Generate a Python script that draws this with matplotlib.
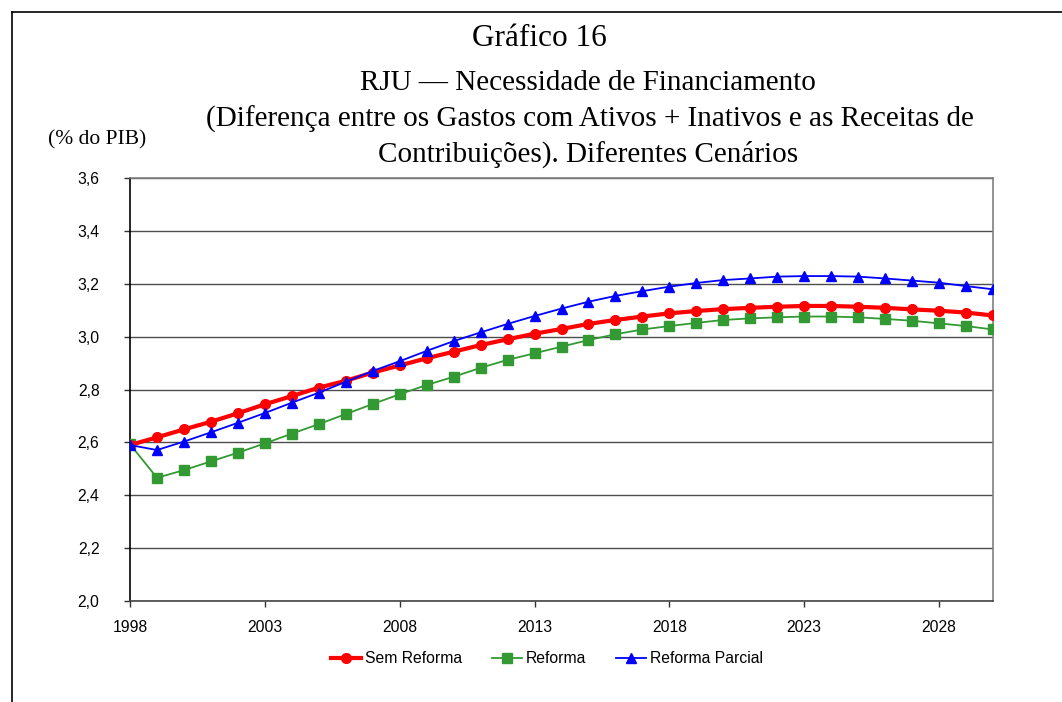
import matplotlib
matplotlib.use("Agg")
import matplotlib.pyplot as plt
from matplotlib.lines import Line2D

# data (% do PIB)
years = list(range(1998, 2031))
sem_reforma = [2.590, 2.619, 2.649, 2.678, 2.710, 2.744, 2.775, 2.807, 2.833, 2.864,
               2.891, 2.918, 2.943, 2.968, 2.990, 3.011, 3.029, 3.048, 3.063, 3.076,
               3.088, 3.097, 3.104, 3.109, 3.113, 3.116, 3.116, 3.113, 3.109, 3.103,
               3.098, 3.091, 3.080]
reforma = [2.593, 2.466, 2.495, 2.528, 2.561, 2.596, 2.633, 2.669, 2.707, 2.745,
           2.782, 2.817, 2.848, 2.882, 2.912, 2.937, 2.962, 2.987, 3.009, 3.027,
           3.040, 3.052, 3.063, 3.069, 3.073, 3.076, 3.076, 3.073, 3.067, 3.060,
           3.050, 3.040, 3.027]
reforma_parcial = [2.590, 2.571, 2.603, 2.638, 2.674, 2.711, 2.750, 2.788, 2.829, 2.870,
                   2.907, 2.946, 2.983, 3.016, 3.048, 3.078, 3.106, 3.132, 3.154, 3.172,
                   3.189, 3.203, 3.214, 3.220, 3.227, 3.229, 3.229, 3.227, 3.220, 3.212,
                   3.204, 3.191, 3.179]
series_names = ["Sem Reforma", "Reforma", "Reforma Parcial"]
yticks = [2.0, 2.2, 2.4, 2.6, 2.8, 3.0, 3.2, 3.4, 3.6]
xticks = [1998, 2003, 2008, 2013, 2018, 2023, 2028]

fig = plt.figure(figsize=(10.62, 7.02), dpi=100)
ax = fig.add_axes([130 / 1062, 1 - 601 / 702, (993 - 130) / 1062, (601 - 178) / 702])

ax.plot(years, sem_reforma, color="#ff0000", lw=3.0, marker="o", ms=7,
        label=series_names[0], zorder=4)
ax.plot(years, reforma, color="#339933", lw=1.3, marker="s", ms=7,
        label=series_names[1], zorder=3)
ax.plot(years, reforma_parcial, color="#0000ff", lw=1.3, marker="^", ms=7.5,
        label=series_names[2], zorder=5)

ax.set_xlim(years[0], years[-1])
ax.set_ylim(2.0, 3.6)
ax.set_yticks(yticks)
ax.set_yticklabels([f"{v:.1f}".replace(".", ",") for v in yticks])
ax.set_xticks(xticks)
ax.set_xticklabels([str(x) for x in xticks])
ax.tick_params(labelsize=11.3, length=4, width=1, direction="out", color="#333333")
ax.tick_params(axis="y", pad=18)
ax.tick_params(axis="x", pad=10)
for lab in ax.get_xticklabels() + ax.get_yticklabels():
    lab.set_fontfamily("Liberation Sans")

ax.grid(axis="y", color="#4d4d4d", lw=1)
ax.set_axisbelow(True)
ax.spines["left"].set_color("black")
ax.spines["bottom"].set_color("#444444")
ax.spines["top"].set_color("#808080")
ax.spines["right"].set_color("#808080")
for s in ax.spines.values():
    s.set_linewidth(1.2)

leg = ax.legend(loc="upper center", bbox_to_anchor=(0.483, -0.085), ncol=3, frameon=False,
                prop={"family": "Liberation Sans", "size": 11.3}, handlelength=1.9,
                columnspacing=1.9, handletextpad=0.25)

# frame lines of the page
fig.add_artist(Line2D([12 / 1062, 1], [1 - 12 / 702, 1 - 12 / 702], color="black", lw=1.2))
fig.add_artist(Line2D([12 / 1062, 12 / 1062], [0, 1 - 12 / 702], color="black", lw=1.2))

serif = "Liberation Serif"
fig.text(539 / 1062, 1 - 38 / 702, "Gráfico 16", ha="center", va="center",
         fontsize=22.5, family=serif)
fig.text(588 / 1062, 1 - 83 / 702, "RJU \u2014 Necessidade de Financiamento", ha="center",
         va="center", fontsize=21, family=serif)
fig.text(590 / 1062, 1 - 119 / 702,
         "(Diferença entre os Gastos com Ativos + Inativos e as Receitas de",
         ha="center", va="center", fontsize=21, family=serif)
fig.text(588 / 1062, 1 - 154 / 702, "Contribuições). Diferentes Cenários", ha="center",
         va="center", fontsize=21, family=serif)
fig.text(97 / 1062, 1 - 140 / 702, "(% do PIB)", ha="center", va="center",
         fontsize=15.5, family=serif)

fig.savefig("out.png", dpi=100)
